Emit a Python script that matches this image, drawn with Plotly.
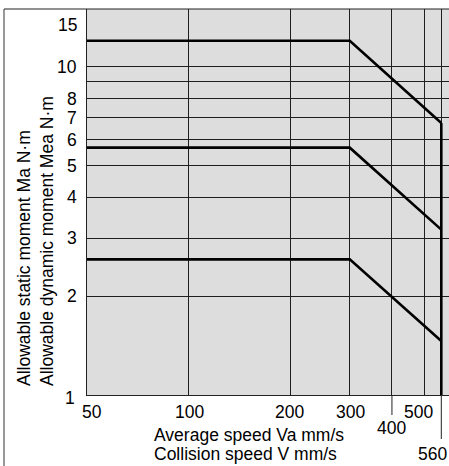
import math
import plotly.graph_objects as go

# ---- data ----
speed = [50, 300, 560]                     # mm/s
moment_high = [12.0, 12.0, 6.74]           # N·m
moment_mid = [5.67, 5.67, 3.19]
moment_low = [2.59, 2.59, 1.46]
limit_speed = [560, 560]
limit_moment = [1.0, 6.74]

x_grid = [100, 200, 300, 400, 500, 560]
x_tick_vals = [50, 100, 200, 300, 400, 500, 560]
x_tick_text = ["50", "100", "200", "300", "400", "500", "560"]
x_long_ticks = [400, 560]
y_grid = [2, 3, 4, 5, 6, 7, 8, 9, 10]
y_tick_vals = [15, 10, 8, 7, 6, 5, 4, 3, 2, 1]
y_tick_text = ["15", "10", "8", "7", "6", "5", "4", "3", "2", "1"]

x_title = ["Average speed Va mm/s", "Collision speed V mm/s"]
y_title = ["Allowable static moment Ma N·m", "Allowable dynamic moment Mea N·m"]

# ---- layout constants ----
W, H = 449, 466
L, R, T, B = 87, 0, 9, 71
PW, PH = W - L - R, H - T - B
FONT = "Liberation Sans, Arial, Helvetica, sans-serif"
FS = 17.5
XR = [math.log10(50), 2.771]

def px_x(px):
    return (px - L) / PW

def px_y(py):
    return (H - B - py) / PH

def val_x(v):
    return (math.log10(v) - XR[0]) / (XR[1] - XR[0])

fig = go.Figure()
for ys in (moment_high, moment_mid, moment_low):
    fig.add_trace(go.Scatter(x=speed, y=ys, mode="lines",
                             line=dict(color="black", width=2.6),
                             showlegend=False, hoverinfo="skip"))
fig.add_trace(go.Scatter(x=limit_speed, y=limit_moment, mode="lines",
                         line=dict(color="black", width=2.6),
                         showlegend=False, hoverinfo="skip"))

annotations = []
# y tick labels
for v, t in zip(y_tick_vals, y_tick_text):
    a = dict(x=0, xref="paper", y=math.log10(v), yref="y", text=t,
             showarrow=False, xanchor="right", yanchor="middle",
             xshift=-8, font=dict(family=FONT, size=FS, color="black"))
    if v == 15:
        a["yshift"] = -16
    if v == 1:
        a["xshift"] = -10
        a["yshift"] = -3
    annotations.append(a)

# x tick labels (staggered as in reference)
x_shift = {50: 5, 100: 1, 200: -1, 300: 1, 400: 0, 500: -6, 560: -9}
x_ypix = {400: 428, 560: 454}
for v, t in zip(x_tick_vals, x_tick_text):
    annotations.append(dict(x=math.log10(v), xref="x",
                            y=px_y(x_ypix.get(v, 411.5)), yref="paper",
                            text=t, showarrow=False, xanchor="center",
                            yanchor="middle", xshift=x_shift[v],
                            font=dict(family=FONT, size=FS, color="black")))

# axis titles
for t, py in zip(x_title, (435, 454)):
    annotations.append(dict(x=px_x(152), xref="paper", y=px_y(py), yref="paper",
                            text=t, showarrow=False, xanchor="left",
                            yanchor="middle",
                            font=dict(family=FONT, size=FS, color="black")))
for t, pxc in zip(y_title, (24, 47)):
    annotations.append(dict(x=px_x(pxc), xref="paper", y=px_y(388), yref="paper",
                            text=t, showarrow=False, textangle=-90,
                            xanchor="center", yanchor="bottom",
                            font=dict(family=FONT, size=FS, color="black")))

shapes = [
    # outer frame (top and left)
    dict(type="line", xref="paper", yref="paper", x0=px_x(4), x1=1,
         y0=1, y1=1, line=dict(color="#222", width=1.2)),
    dict(type="line", xref="paper", yref="paper", x0=px_x(4), x1=px_x(4),
         y0=1, y1=px_y(H), line=dict(color="#555", width=1.2)),
]
# extended tick marks below the axis
for v, end_py in zip(x_long_ticks, (415, 439)):
    shapes.append(dict(type="line", xref="paper", yref="paper",
                       x0=val_x(v), x1=val_x(v), y0=0, y1=px_y(end_py),
                       line=dict(color="#222", width=1)))

fig.update_layout(
    width=W, height=H,
    margin=dict(l=L, r=R, t=T, b=B, pad=0),
    paper_bgcolor="white", plot_bgcolor="#dddddd",
    showlegend=False,
    annotations=annotations, shapes=shapes,
    xaxis=dict(type="log", range=XR,
               tickvals=x_grid, showticklabels=False, ticks="",
               showgrid=True, gridcolor="#1e1e1e", gridwidth=1,
               showline=True, linecolor="#222", linewidth=1.2,
               zeroline=False, fixedrange=True),
    yaxis=dict(type="log", range=[0, math.log10(15)],
               tickvals=y_grid, showticklabels=False, ticks="",
               showgrid=True, gridcolor="#1e1e1e", gridwidth=1,
               showline=True, linecolor="#222", linewidth=1.2,
               zeroline=False, fixedrange=True),
)

fig.write_html("out.html", config={"displayModeBar": False},
               post_script="document.body.style.margin='0';document.body.style.overflow='hidden';")
